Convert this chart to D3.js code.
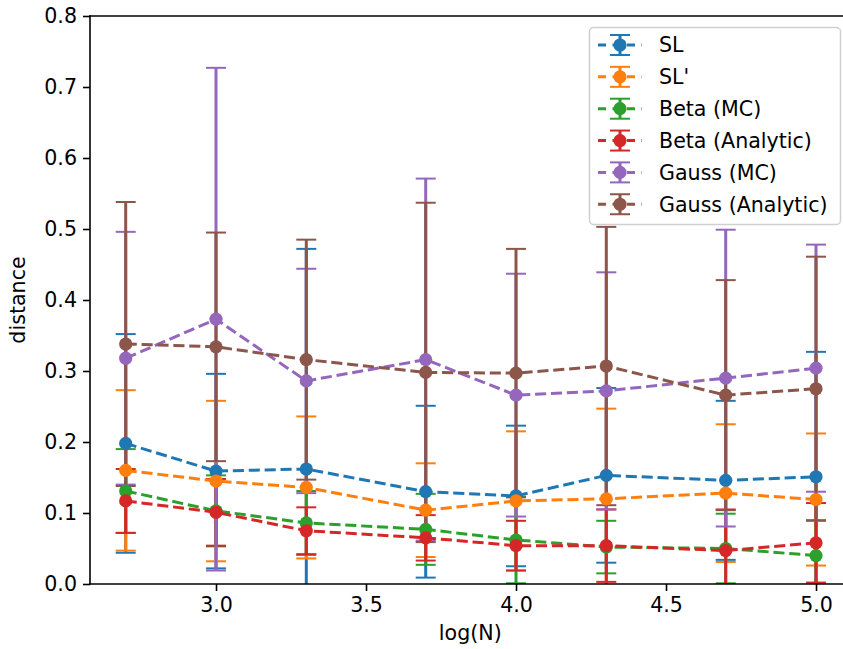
<!DOCTYPE html>
<html>
<head>
<meta charset="utf-8">
<script src="https://cdn.jsdelivr.net/npm/d3@7"></script>
<style>
  html, body { margin: 0; padding: 0; background: #fff; }
  svg { display: block; font-family: "DejaVu Sans", sans-serif; }
</style>
</head>
<body>
<svg id="chart" width="843" height="649"></svg>
<script>
// ---- data ----
const logN = [2.699, 3.0, 3.301, 3.699, 4.0, 4.301, 4.699, 5.0];

const seriesNames = ["SL", "SL'", "Beta (MC)", "Beta (Analytic)", "Gauss (MC)", "Gauss (Analytic)"];
const seriesColors = ["#1f77b4", "#ff7f0e", "#2ca02c", "#d62728", "#9467bd", "#8c564b"];

const slMean   = [0.198, 0.159, 0.162, 0.130, 0.124, 0.153, 0.146, 0.151];
const slErr    = [0.154, 0.137, 0.310, 0.121, 0.099, 0.123, 0.112, 0.176];
const slpMean  = [0.160, 0.145, 0.136, 0.104, 0.117, 0.120, 0.128, 0.119];
const slpErr   = [0.113, 0.113, 0.100, 0.066, 0.098, 0.127, 0.097, 0.093];
const betaMcMean = [0.131, 0.103, 0.086, 0.077, 0.062, 0.052, 0.050, 0.040];
const betaMcErr  = [0.059, 0.050, 0.045, 0.050, 0.061, 0.037, 0.049, 0.050];
const betaAnMean = [0.117, 0.101, 0.075, 0.065, 0.054, 0.054, 0.047, 0.058];
const betaAnErr  = [0.045, 0.047, 0.033, 0.032, 0.035, 0.051, 0.058, 0.056];
const gaussMcMean = [0.318, 0.373, 0.286, 0.316, 0.266, 0.272, 0.290, 0.304];
const gaussMcErr  = [0.178, 0.354, 0.158, 0.255, 0.171, 0.167, 0.209, 0.174];
const gaussAnMean = [0.338, 0.334, 0.316, 0.298, 0.297, 0.307, 0.266, 0.275];
const gaussAnErr  = [0.200, 0.161, 0.169, 0.239, 0.175, 0.196, 0.162, 0.186];

const xTicks = [3.0, 3.5, 4.0, 4.5, 5.0];
const yTicks = [0.0, 0.1, 0.2, 0.3, 0.4, 0.5, 0.6, 0.7, 0.8];

const means = [slMean, slpMean, betaMcMean, betaAnMean, gaussMcMean, gaussAnMean];
const errs  = [slErr, slpErr, betaMcErr, betaAnErr, gaussMcErr, gaussAnErr];

const series = seriesNames.map((name, i) => ({
  name, color: seriesColors[i],
  pts: logN.map((xv, j) => ({ x: xv, y: means[i][j], e: errs[i][j] }))
}));

// ---- layout ----
const svg = d3.select("#chart");
const pLeft = 90, pRight = 850.5, pTop = 16, pBottom = 584;
const FS = 20.6;
const MR = 6.6;

const x = d3.scaleLinear().domain([2.58, 5.115]).range([pLeft, pRight]);
const y = d3.scaleLinear().domain([0, 0.8]).range([pBottom, pTop]);

svg.append("defs").append("clipPath").attr("id", "clip")
  .append("rect").attr("x", pLeft).attr("y", pTop)
  .attr("width", pRight - pLeft).attr("height", pBottom - pTop);

const plot = svg.append("g").attr("clip-path", "url(#clip)");

const capHalf = 10;
const dash = "11.1,4.8";

// error bars (drawn below all data lines, like matplotlib default)
series.forEach(s => {
  const g = plot.append("g");
  g.selectAll("line.bar").data(s.pts).join("line").attr("class", "bar")
    .attr("x1", d => x(d.x)).attr("x2", d => x(d.x))
    .attr("y1", d => y(d.y - d.e)).attr("y2", d => y(d.y + d.e))
    .attr("stroke", s.color).attr("stroke-width", 3);
  [-1, 1].forEach((sign, k) => {
    g.selectAll("line.cap" + k).data(s.pts).join("line").attr("class", "cap" + k)
      .attr("x1", d => x(d.x) - capHalf).attr("x2", d => x(d.x) + capHalf)
      .attr("y1", d => y(d.y + sign * d.e)).attr("y2", d => y(d.y + sign * d.e))
      .attr("stroke", s.color).attr("stroke-width", 2);
  });
});

// data lines + markers
const lineGen = d3.line().x(d => x(d.x)).y(d => y(d.y));
series.forEach(s => {
  const g = plot.append("g");
  g.append("path").datum(s.pts)
    .attr("d", lineGen).attr("fill", "none")
    .attr("stroke", s.color).attr("stroke-width", 3)
    .attr("stroke-dasharray", dash);
  g.selectAll("circle").data(s.pts).join("circle")
    .attr("cx", d => x(d.x)).attr("cy", d => y(d.y)).attr("r", MR)
    .attr("fill", s.color);
});

// axes
const xAxis = d3.axisBottom(x).tickValues(xTicks).tickFormat(d3.format(".1f"))
  .tickSize(7).tickPadding(6);
const yAxis = d3.axisLeft(y).tickValues(yTicks).tickFormat(d3.format(".1f"))
  .tickSize(7).tickPadding(6);

const gx = svg.append("g").attr("transform", `translate(0,${pBottom})`).call(xAxis);
const gy = svg.append("g").attr("transform", `translate(${pLeft},0)`).call(yAxis);
[gx, gy].forEach(g => {
  g.select(".domain").remove();
  g.selectAll(".tick line").attr("stroke", "#000").attr("stroke-width", 1.6);
  g.selectAll(".tick text").attr("fill", "#000").attr("font-size", FS)
    .attr("font-family", "DejaVu Sans");
});
gx.selectAll(".tick text").attr("dy", "0.74em");

// spines
const spine = svg.append("g").attr("stroke", "#000").attr("stroke-width", 1.6)
  .attr("stroke-linecap", "square");
spine.append("line").attr("x1", pLeft).attr("x2", pLeft).attr("y1", pTop).attr("y2", pBottom);
spine.append("line").attr("x1", pLeft).attr("x2", 843).attr("y1", pBottom).attr("y2", pBottom);
spine.append("line").attr("x1", pLeft).attr("x2", 843).attr("y1", pTop).attr("y2", pTop);

// axis labels
svg.append("text").attr("x", (pLeft + pRight) / 2).attr("y", 640)
  .attr("text-anchor", "middle").attr("font-size", FS).attr("fill", "#000")
  .text("log(N)");
svg.append("text").attr("transform", `translate(25,${(pTop + pBottom) / 2}) rotate(-90)`)
  .attr("text-anchor", "middle").attr("font-size", FS).attr("fill", "#000")
  .text("distance");

// legend
const lg = svg.append("g");
lg.append("rect").attr("x", 589.5).attr("y", 27.5).attr("width", 251).attr("height", 197)
  .attr("rx", 4).attr("fill", "#fff").attr("fill-opacity", 0.8)
  .attr("stroke", "#d0d0d0").attr("stroke-width", 1.5);
const rowY0 = 45, rowStep = 31.85;
series.forEach((s, i) => {
  const cy = rowY0 + i * rowStep;
  const g = lg.append("g");
  g.append("line").attr("x1", 620).attr("x2", 620).attr("y1", cy - 10).attr("y2", cy + 10)
    .attr("stroke", s.color).attr("stroke-width", 3);
  [-10, 10].forEach(o => g.append("line").attr("x1", 610).attr("x2", 630)
    .attr("y1", cy + o).attr("y2", cy + o).attr("stroke", s.color).attr("stroke-width", 2));
  g.append("line").attr("x1", 598).attr("x2", 642).attr("y1", cy).attr("y2", cy)
    .attr("stroke", s.color).attr("stroke-width", 3).attr("stroke-dasharray", "8,6.5");
  g.append("circle").attr("cx", 620).attr("cy", cy).attr("r", MR).attr("fill", s.color);
  g.append("text").attr("x", 659).attr("y", cy).attr("dy", "0.36em")
    .attr("font-size", FS).attr("fill", "#000").text(s.name);
});
</script>
</body>
</html>
